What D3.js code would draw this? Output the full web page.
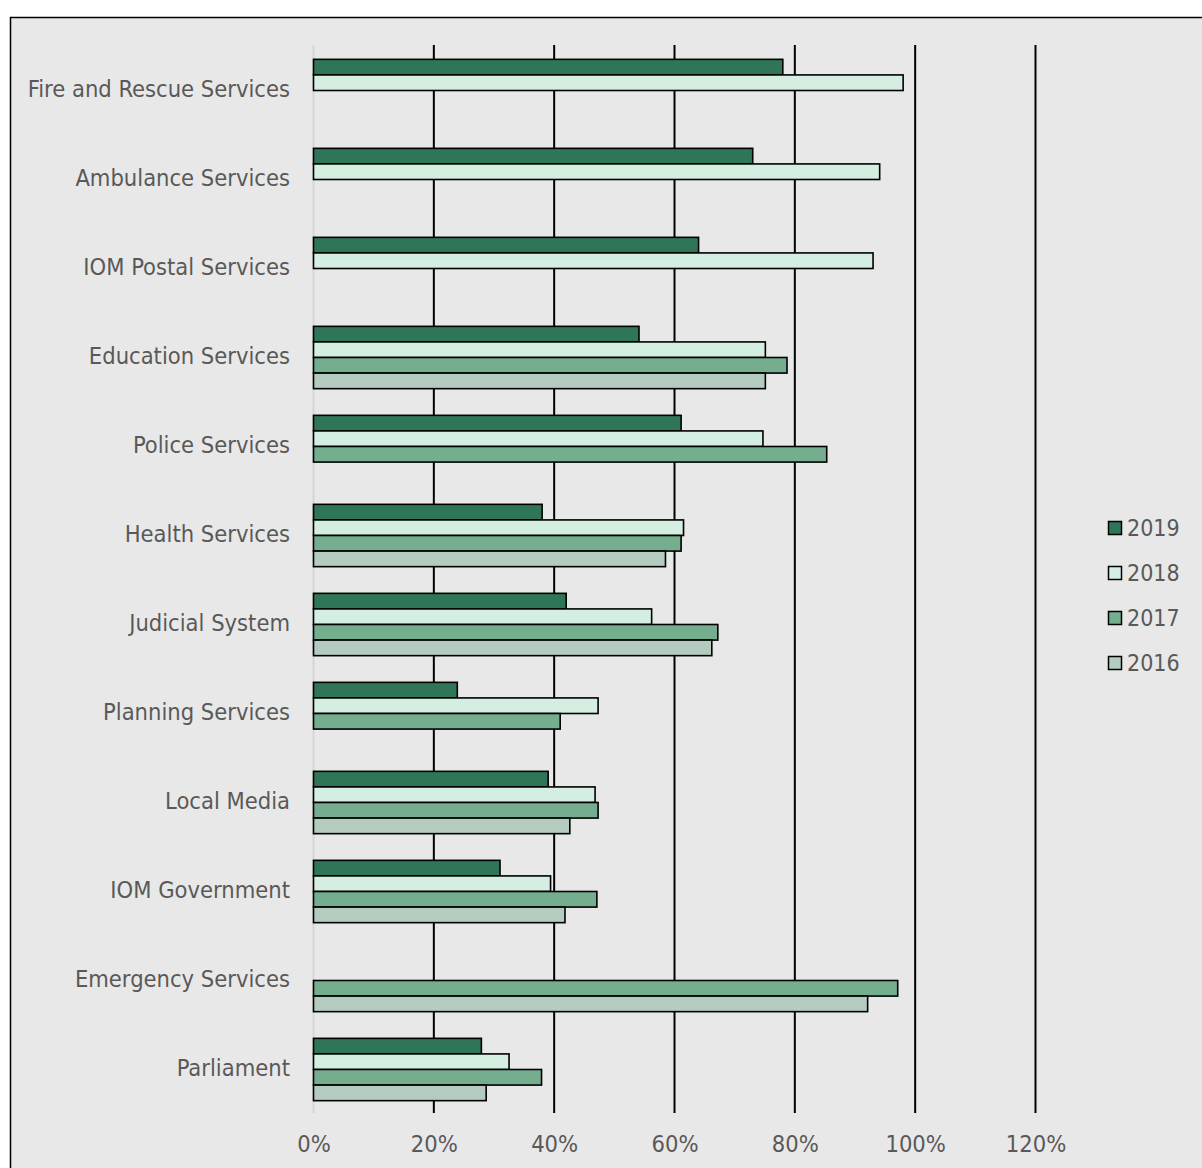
<!DOCTYPE html>
<html>
<head>
<meta charset="utf-8">
<script src="https://cdn.jsdelivr.net/npm/d3@7"></script>
<style>
  html, body { margin: 0; padding: 0; background: #ffffff; }
  svg { display: block; }
  text { font-family: "DejaVu Sans Condensed", "DejaVu Sans", sans-serif; fill: #595959; }
</style>
</head>
<body>
<svg id="chart" width="1202" height="1168"></svg>
<script>
const categories = [
  "Fire and Rescue Services", "Ambulance Services", "IOM Postal Services",
  "Education Services", "Police Services", "Health Services", "Judicial System",
  "Planning Services", "Local Media", "IOM Government", "Emergency Services", "Parliament"
];
const years = ["2019", "2018", "2017", "2016"];
const values2019 = [78, 73, 64, 54.1, 61.1, 38.0, 42.0, 23.9, 39.0, 31.0, null, 27.9];
const values2018 = [98, 94.1, 93, 75.1, 74.7, 61.5, 56.2, 47.3, 46.8, 39.4, null, 32.5];
const values2017 = [null, null, null, 78.7, 85.3, 61.1, 67.2, 41.0, 47.3, 47.1, 97.1, 37.9];
const values2016 = [null, null, null, 75.1, null, 58.5, 66.2, null, 42.6, 41.8, 92.1, 28.7];
const tickValues = [0, 20, 40, 60, 80, 100, 120];
const colors = ["#2e7657", "#d5eee2", "#75ae8f", "#b3ccbf"];

const seriesValues = [values2019, values2018, values2017, values2016];
const FONT = '"DejaVu Sans Condensed", "DejaVu Sans", sans-serif';

const svg = d3.select("#chart");

// chart area background with border
svg.append("rect")
  .attr("x", 10.5).attr("y", 17.5)
  .attr("width", 1300).attr("height", 1300)
  .attr("fill", "#e8e8e8")
  .attr("stroke", "#000").attr("stroke-width", 1.5);

const plot = { left: 313.5, right: 1035.5, top: 46, bottom: 1114 };

const x = d3.scaleLinear().domain([0, 120]).range([plot.left, plot.right]);
const y = d3.scaleBand().domain(categories).range([plot.top, plot.bottom])
  .paddingInner(0.3).paddingOuter(0.15);
const yInner = d3.scaleBand().domain(years).range([0, y.bandwidth()]).padding(0);
const colorScale = d3.scaleOrdinal().domain(years).range(colors);

// gridlines
svg.append("g").selectAll("line")
  .data(tickValues.filter(d => d > 0))
  .join("line")
  .attr("x1", d => x(d)).attr("x2", d => x(d))
  .attr("y1", plot.top - 1).attr("y2", plot.bottom - 1)
  .attr("stroke", "#000").attr("stroke-width", 2);

// zero axis line
svg.append("line")
  .attr("x1", x(0)).attr("x2", x(0))
  .attr("y1", plot.top - 1).attr("y2", plot.bottom - 1)
  .attr("stroke", "#d6d6d6").attr("stroke-width", 2);

// bars
const barData = [];
categories.forEach((c, i) => {
  years.forEach((yr, j) => {
    const v = seriesValues[j][i];
    if (v !== null && v !== undefined) barData.push({ cat: c, year: yr, value: v });
  });
});

svg.append("g").selectAll("rect")
  .data(barData)
  .join("rect")
  .attr("x", x(0))
  .attr("y", d => y(d.cat) + yInner(d.year))
  .attr("width", d => x(d.value) - x(0))
  .attr("height", yInner.bandwidth())
  .attr("fill", d => colorScale(d.year))
  .attr("stroke", "#000").attr("stroke-width", 1.6);

// category axis labels
const yAxis = d3.axisLeft(y).tickSize(0).tickPadding(0);
const gy = svg.append("g").attr("transform", `translate(290,-1)`).call(yAxis);
gy.select(".domain").remove();
gy.selectAll("text")
  .attr("font-size", 23.5)
  .attr("fill", "#595959")
  .style("font-family", FONT);

// x axis labels
const xAxis = d3.axisBottom(x).tickValues(tickValues).tickFormat(d => d + "%").tickSize(0).tickPadding(0);
const gx = svg.append("g").attr("transform", `translate(0,1135)`).call(xAxis);
gx.select(".domain").remove();
gx.selectAll("text")
  .attr("font-size", 23.5)
  .attr("fill", "#595959")
  .style("font-family", FONT);

// legend
const legend = svg.append("g").selectAll("g")
  .data(years)
  .join("g")
  .attr("transform", (d, i) => `translate(1108, ${528 + i * 45})`);
legend.append("rect")
  .attr("x", 0.5).attr("y", -6.5)
  .attr("width", 13).attr("height", 13)
  .attr("fill", d => colorScale(d))
  .attr("stroke", "#000").attr("stroke-width", 1.5);
legend.append("text")
  .attr("x", 19).attr("y", 0)
  .attr("dy", "0.35em")
  .attr("font-size", 23)
  .text(d => d);
</script>
</body>
</html>
